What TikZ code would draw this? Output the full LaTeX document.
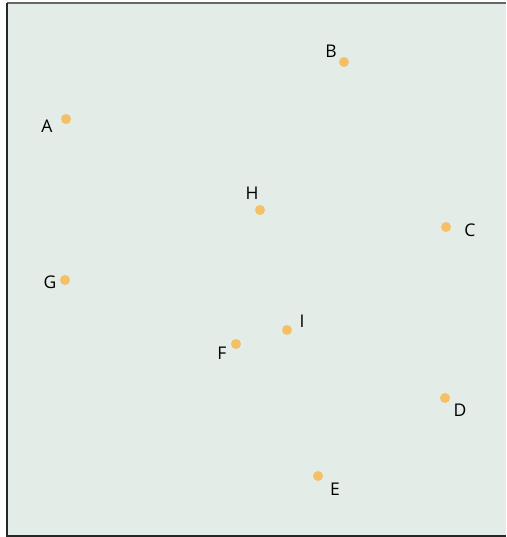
\documentclass[tikz,border=0pt]{standalone}
\usepackage{fontspec}
\setmainfont{Open Sans}
\definecolor{bgc}{HTML}{E3ECE7}
\definecolor{dotc}{HTML}{F5C065}
\definecolor{topc}{HTML}{666666}
\begin{document}
\begin{tikzpicture}[x=1pt,y=-1pt,
  pt/.style={circle,fill=dotc,inner sep=0pt,minimum size=10pt},
  lbl/.style={font=\fontsize{17.5}{20}\selectfont,text=black,inner sep=0pt}]
\useasboundingbox (0,0) rectangle (506,537);
\fill[bgc] (7,3) rectangle (506,536);
\draw[topc,line width=1.5pt] (7,3) -- (506,3);
\draw[black!85,line width=1.5pt] (7,3) -- (7,536) -- (506,536);
\node[pt] (A) at (66,119) {};
\node[pt] (B) at (344,62) {};
\node[pt] (C) at (446,227) {};
\node[pt] (D) at (445,398) {};
\node[pt] (E) at (318,476) {};
\node[pt] (F) at (236,344) {};
\node[pt] (G) at (65,280) {};
\node[pt] (H) at (260,210) {};
\node[pt] (I) at (287,330) {};
\node[lbl] (lA) at (47,126) {A};
\node[lbl] (lB) at (331,51) {B};
\node[lbl] (lC) at (470,230) {C};
\node[lbl] (lD) at (460,410) {D};
\node[lbl] (lE) at (335,489) {E};
\node[lbl] (lF) at (222,353) {F};
\node[lbl] (lG) at (50,282) {G};
\node[lbl] (lH) at (252,193) {H};
\node[lbl] (lI) at (302,321) {I};
\end{tikzpicture}
\end{document}
